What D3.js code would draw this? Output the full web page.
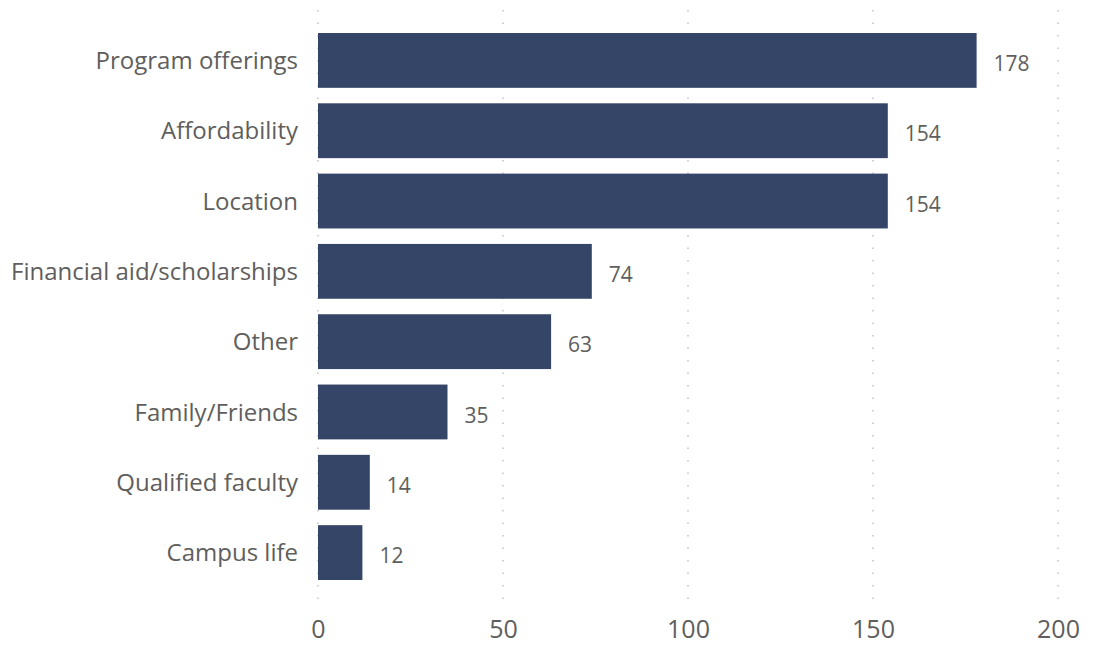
<!DOCTYPE html>
<html><head><meta charset="utf-8">
<script src="https://cdn.jsdelivr.net/npm/d3@7"></script>
<style>body{margin:0;background:#fff;} text{font-family:"Segoe UI","Open Sans",sans-serif;}</style>
</head><body>
<svg id="c" width="1097" height="646"></svg>
<script>
const categories = ["Program offerings","Affordability","Location","Financial aid/scholarships","Other","Family/Friends","Qualified faculty","Campus life"];
const values = [178,154,154,74,63,35,14,12];
const xTicks = [0,50,100,150,200];

const svg = d3.select("#c");
const x = d3.scaleLinear().domain([0,200]).range([318,1058]);
const y = d3.scaleBand().domain(categories).range([33,580]).paddingInner(0.22).paddingOuter(0);

// gridlines
svg.append("g").selectAll("line").data(xTicks).join("line")
  .attr("x1",d=>x(d)).attr("x2",d=>x(d)).attr("y1",10).attr("y2",610)
  .attr("stroke","#c8c8c8").attr("stroke-width",1.6).attr("stroke-dasharray","1.6,10.9");

// bars
svg.append("g").selectAll("rect").data(values).join("rect")
  .attr("x",x(0)).attr("y",(d,i)=>y(categories[i]))
  .attr("width",d=>x(d)-x(0)).attr("height",y.bandwidth())
  .attr("fill","#354567");

// value labels
svg.append("g").selectAll("text").data(values).join("text")
  .attr("x",d=>x(d)+17).attr("y",(d,i)=>y(categories[i])+y.bandwidth()/2+5)
  .attr("dominant-baseline","middle")
  .style("font-size","21px").attr("fill","#605e5c").text(d=>d);

// y axis labels
const yAxis = d3.axisLeft(y).tickSize(0).tickPadding(20);
const gy = svg.append("g").attr("transform",`translate(${x(0)},1)`).call(yAxis);
gy.select(".domain").remove();
gy.selectAll("text").style("font-size","24px").attr("fill","#605e5c").style("font-family",'"Segoe UI","Open Sans",sans-serif');

// x axis
const xAxis = d3.axisBottom(x).tickValues(xTicks).tickSize(0).tickPadding(0);
const gx = svg.append("g").attr("transform","translate(0,620)").call(xAxis);
gx.select(".domain").remove();
gx.selectAll("text").style("font-size","25px").attr("fill","#605e5c").style("font-family",'"Segoe UI","Open Sans",sans-serif');
</script>
</body></html>
